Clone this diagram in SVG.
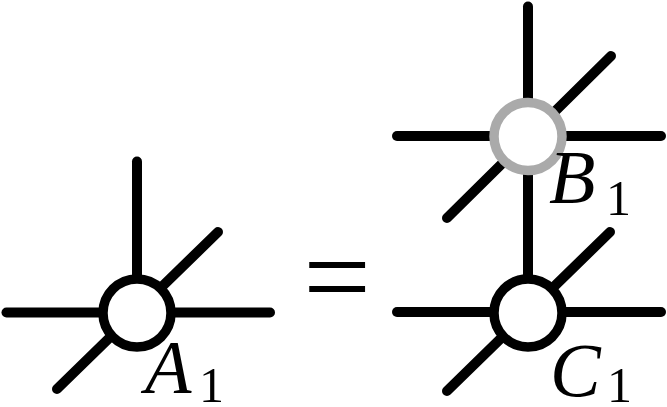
<svg xmlns="http://www.w3.org/2000/svg" width="667" height="407" viewBox="0 0 667 407">
  <style>
    .leg { stroke: #000; stroke-width: 10; stroke-linecap: round; fill: none; }
    .node { fill: #fff; stroke-width: 9.5; }
    .black { stroke: #000; }
    .gray { stroke: #aaaaaa; }
  </style>
  <rect width="667" height="407" fill="#fff"/>
  <g id="connectors">
    <line class="leg" x1="6.5" y1="312.5" x2="270" y2="312.5"/>
    <line class="leg" x1="137" y1="161.5" x2="137" y2="313"/>
    <line class="leg" x1="57" y1="389" x2="218" y2="232"/>
    <line class="leg" x1="397" y1="136" x2="661" y2="136"/>
    <line class="leg" x1="528" y1="6.5" x2="528" y2="313"/>
    <line class="leg" x1="447" y1="218" x2="611" y2="56"/>
    <line class="leg" x1="397" y1="312" x2="661" y2="312"/>
    <line class="leg" x1="447" y1="391" x2="610" y2="232"/>
  </g>
  <g font-family="Liberation Serif, Times New Roman, serif" fill="#000">
    <g id="A1">
      <circle class="node black" cx="137" cy="313" r="34"/>
      <text x="145" y="393" font-size="76" font-style="italic">A</text>
      <text x="199" y="402" font-size="50">1</text>
    </g>
    <g id="B1">
      <circle class="node gray" cx="528" cy="136.5" r="34"/>
      <text x="549" y="203" font-size="76" font-style="italic">B</text>
      <text x="606" y="215" font-size="50">1</text>
    </g>
    <g id="C1">
      <circle class="node black" cx="528" cy="313" r="34"/>
      <text x="550" y="396" font-size="76" font-style="italic">C</text>
      <text x="607" y="402" font-size="50">1</text>
    </g>
    <g id="equals">
      <text x="337" y="317" font-size="120" text-anchor="middle">=</text>
    </g>
  </g>
</svg>
